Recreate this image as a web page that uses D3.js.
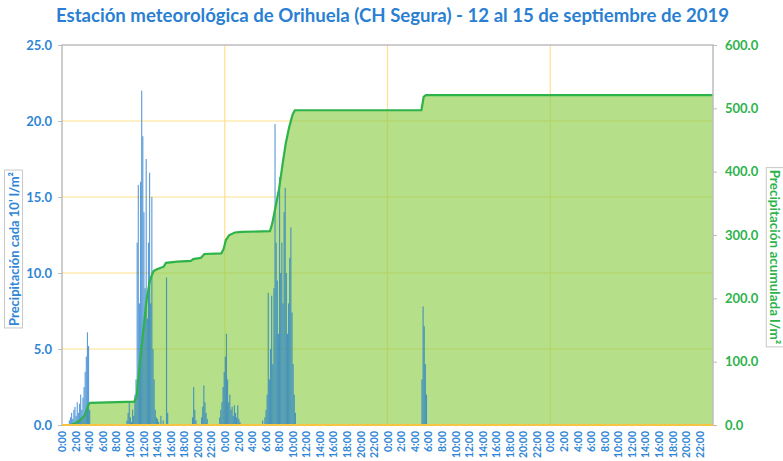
<!DOCTYPE html>
<html>
<head>
<meta charset="utf-8">
<script src="https://cdn.jsdelivr.net/npm/d3@7"></script>
<style>
  body { margin: 0; background: #fff; }
  svg { display: block; font-family: Lato, "Open Sans", sans-serif; }
</style>
</head>
<body>
<svg id="chart" width="783" height="461"></svg>
<script>
// --- data ---
const title = "Estación meteorológica de Orihuela (CH Segura) - 12 al 15 de septiembre de 2019";
const leftTitle = "Precipitación cada 10' l/m²";
const rightTitle = "Precipitación acumulada l/m²";
const nDays = 4;
const leftTicks = [0, 5, 10, 15, 20, 25];
const rightTicks = [0, 100, 200, 300, 400, 500, 600];

// 10-minute rainfall, grouped by rain episode ("day hh:mm" of first value)
const rainStart = ["1 01:00", "1 09:30", "1 14:00", "1 19:00", "1 23:10", "2 05:30", "3 05:00"];
const rainValues = [
  [0.3, 0.5, 0.8, 0.4, 1.0, 1.2, 0.6, 1.5, 0.8, 1.4, 2.0, 1.0, 1.8, 2.5, 3.5, 4.5, 6.1, 5.2, 1.0],
  [0.3, 0.8, 1.5, 0.5, 0.2, 1.0, 0.6, 2.0, 3.0, 12.0, 15.8, 8.0, 16.0, 22.0, 19.0, 14.0, 9.0, 17.5, 7.0, 12.0, 16.6, 8.0, 15.0, 5.0, 3.0, 1.0, 0.5],
  [0.4, 0.2, 0, 0.6, 0, 0.3, 0, 0, 9.7, 0.8],
  [0, 0.5, 2.5, 1.0, 0.3, 0, 0, 0, 0, 0.5, 1.2, 2.6, 1.5, 0.8, 0.4],
  [0.5, 1.0, 1.5, 2.5, 3.5, 4.5, 6.0, 3.0, 1.5, 2.0, 1.0, 1.2, 0.6, 1.3, 0.8, 0.5, 1.3, 0.4, 0.2],
  [0.3, 0, 0.5, 1.0, 2.0, 8.7, 3.0, 5.0, 8.5, 4.0, 9.0, 19.8, 12.0, 9.5, 6.0, 16.3, 10.0, 12.0, 8.0, 14.0, 15.6, 10.0, 6.0, 8.0, 11.0, 13.0, 7.4, 4.0, 2.0, 0.8],
  [3.0, 7.8, 6.5, 4.0, 2.0]
];

// accumulated rainfall breakpoints
const accTimes = ["1 00:00", "1 01:20", "1 02:00", "1 02:40", "1 03:20", "1 03:40", "1 04:00", "1 04:10",
  "1 10:40", "1 11:00", "1 11:30", "1 12:00", "1 12:30", "1 13:00", "1 13:30", "1 14:00", "1 15:00", "1 15:20",
  "1 17:00", "1 19:00", "1 19:20", "1 20:30", "1 21:00", "1 23:30", "1 23:50", "2 00:10", "2 00:40", "2 01:30",
  "2 02:30", "2 06:40", "2 07:00", "2 07:30", "2 08:00", "2 08:30", "2 09:00", "2 09:30", "2 10:00", "2 10:20",
  "3 05:00", "3 05:20", "3 05:40", "4 24:00"];
const accValues = [0, 0, 3, 8, 15, 25, 34, 35,
  37, 45, 100, 150, 200, 230, 243, 246, 250, 256,
  258, 259, 262, 264, 270, 271, 278, 292, 300, 304,
  305, 306, 318, 345, 372, 410, 445, 470, 490, 497,
  497, 518, 521, 521];

// --- helpers ---
const toMin = s => {
  const [d, hm] = s.split(" ");
  const [h, m] = hm.split(":").map(Number);
  return (d - 1) * 1440 + h * 60 + m;
};

const rain = [];
rainStart.forEach((s, k) => {
  const t0 = toMin(s);
  rainValues[k].forEach((v, i) => rain.push({ t: t0 + i * 10, v }));
});
const acc = accTimes.map((s, i) => ({ t: toMin(s), v: accValues[i] }));

// --- layout ---
const svg = d3.select("#chart");
const margin = { top: 45, right: 70, bottom: 36, left: 62 };
const W = 783, H = 461;
const width = W - margin.left - margin.right;
const height = H - margin.top - margin.bottom;

const x = d3.scaleLinear().domain([0, nDays * 1440]).range([0, width]);
const yL = d3.scaleLinear().domain([0, 25]).range([height, 0]);
const yR = d3.scaleLinear().domain([0, 600]).range([height, 0]);

const blue = "#2f86d6";
const green = "#2db34a";

svg.append("text")
  .attr("x", W / 2 + 1).attr("y", 22)
  .attr("text-anchor", "middle")
  .attr("fill", "#2a7fd2")
  .attr("font-size", 18.6).attr("font-weight", 700)
  .text(title);

const g = svg.append("g").attr("transform", `translate(${margin.left},${margin.top})`);

// gridlines
g.append("g").selectAll("line")
  .data(leftTicks.filter(d => d > 0 && d < 25))
  .join("line")
  .attr("x1", 0).attr("x2", width)
  .attr("y1", d => yL(d)).attr("y2", d => yL(d))
  .attr("stroke", "#ffe08a").attr("stroke-width", 1.2);

g.append("g").selectAll("line")
  .data(d3.range(1, nDays))
  .join("line")
  .attr("x1", d => x(d * 1440)).attr("x2", d => x(d * 1440))
  .attr("y1", 0).attr("y2", height)
  .attr("stroke", "#ffe08a").attr("stroke-width", 1.2);

// accumulated area + line
g.append("path")
  .datum(acc)
  .attr("d", d3.area().x(d => x(d.t)).y0(height).y1(d => yR(d.v)))
  .attr("fill", "#92d050").attr("fill-opacity", 0.68);

// 10-minute bars
g.append("g").selectAll("rect")
  .data(rain.filter(d => d.v > 0))
  .join("rect")
  .attr("x", d => x(d.t))
  .attr("width", d => x(d.t + 10) - x(d.t))
  .attr("y", d => yL(d.v))
  .attr("height", d => height - yL(d.v))
  .attr("fill", "#1f78cc").attr("fill-opacity", 0.72);

g.append("path")
  .datum(acc)
  .attr("d", d3.line().x(d => x(d.t)).y(d => yR(d.v)))
  .attr("fill", "none").attr("stroke", green).attr("stroke-width", 2.2);

// frame
g.append("path")
  .attr("d", `M0,${height}V0H${width}V${height}`)
  .attr("fill", "none").attr("stroke", "#bdbdbd").attr("stroke-width", 1.5);
g.append("line")
  .attr("x1", 0).attr("x2", width).attr("y1", height).attr("y2", height)
  .attr("stroke", "#f6c343").attr("stroke-width", 2);

// left axis
const axL = g.append("g")
  .call(d3.axisLeft(yL).tickValues(leftTicks).tickFormat(d3.format(".1f")).tickSize(4).tickPadding(6));
axL.select(".domain").remove();
axL.selectAll("line").attr("stroke", "#bdbdbd");
axL.selectAll("text").attr("fill", blue).attr("font-size", 13).attr("font-weight", 700).attr("font-family", "Lato");

// right axis
const axR = g.append("g").attr("transform", `translate(${width},0)`)
  .call(d3.axisRight(yR).tickValues(rightTicks).tickFormat(d3.format(".1f")).tickSize(4).tickPadding(8));
axR.select(".domain").remove();
axR.selectAll("line").attr("stroke", "#bdbdbd");
axR.selectAll("text").attr("fill", green).attr("font-size", 13).attr("font-weight", 700).attr("font-family", "Lato");

// bottom axis
const axB = g.append("g").attr("transform", `translate(0,${height})`)
  .call(d3.axisBottom(x).tickValues(d3.range(0, nDays * 1440, 120))
    .tickFormat(d => `${(d % 1440) / 60}:00`).tickSize(0).tickPadding(0));
axB.select(".domain").remove();
axB.selectAll("text")
  .attr("transform", "rotate(-90)")
  .attr("x", -6).attr("y", 0).attr("dy", "0.35em")
  .attr("text-anchor", "end")
  .attr("fill", blue).attr("font-size", 10.5).attr("font-weight", 700).attr("font-family", "Lato");

// axis titles with boxes
function boxedTitle(txt, cx, cy, angle, color, size) {
  const grp = svg.append("g").attr("transform", `translate(${cx},${cy}) rotate(${angle})`);
  const t = grp.append("text")
    .attr("text-anchor", "middle").attr("dy", "0.35em")
    .attr("fill", color).attr("font-size", size).attr("font-weight", 700)
    .text(txt);
  const bb = t.node().getBBox();
  grp.insert("rect", "text")
    .attr("x", bb.x - 2).attr("y", bb.y - 1)
    .attr("width", bb.width + 4).attr("height", bb.height + 2)
    .attr("fill", "#fff").attr("stroke", "#c8c8c8");
}
boxedTitle(leftTitle, 14, 249, -90, blue, 13);
boxedTitle(rightTitle, 775, 257, 90, green, 13.5);
</script>
</body>
</html>
